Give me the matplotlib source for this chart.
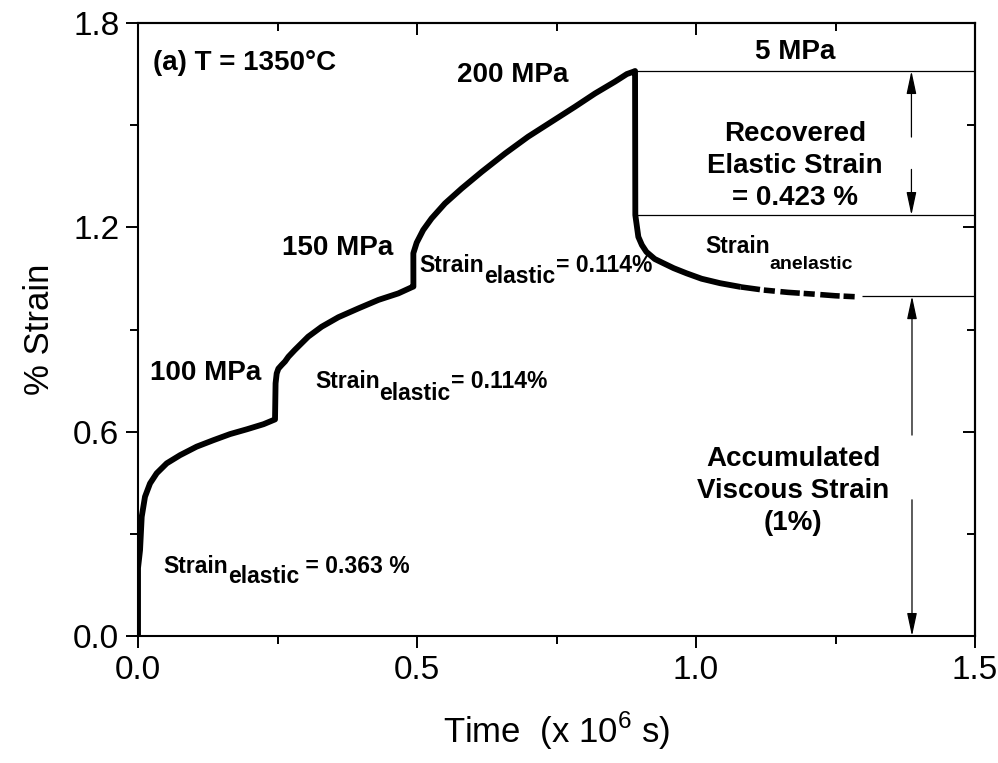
import matplotlib
matplotlib.use('Agg')
import matplotlib.pyplot as plt
from matplotlib.ticker import MultipleLocator

plt.rcParams['font.family'] = ['Liberation Sans', 'DejaVu Sans']
plt.rcParams['mathtext.fontset'] = 'custom'
plt.rcParams['mathtext.rm'] = 'Liberation Sans'

# creep + recovery curve (time in 10^6 s, strain in %)
time = [0.0, 0.0, 0.0036, 0.0066, 0.0125, 0.0215, 0.0335, 0.0514, 0.0753, 0.105, 0.135,
        0.165, 0.195, 0.225, 0.2455,
        0.2465, 0.2485, 0.2515, 0.2575, 0.2634, 0.2695, 0.281, 0.305, 0.329, 0.359, 0.395,
        0.431, 0.4665, 0.4905, 0.4935,
        0.4934, 0.4994, 0.511, 0.526, 0.550, 0.580, 0.616, 0.658, 0.699, 0.741, 0.783,
        0.819, 0.855, 0.876, 0.888, 0.8907,
        0.8912, 0.8966, 0.903, 0.911, 0.926, 0.941, 0.960, 0.983, 1.010, 1.043, 1.080]
strain = [0.0, 0.20, 0.252, 0.350, 0.409, 0.448, 0.478, 0.507, 0.531, 0.556, 0.575,
          0.593, 0.607, 0.622, 0.636,
          0.742, 0.771, 0.785, 0.796, 0.806, 0.820, 0.840, 0.879, 0.908, 0.936, 0.962,
          0.987, 1.006, 1.024, 1.026,
          1.124, 1.155, 1.192, 1.226, 1.270, 1.314, 1.363, 1.417, 1.466, 1.510, 1.554,
          1.593, 1.628, 1.650, 1.657, 1.659,
          1.236, 1.172, 1.148, 1.128, 1.107, 1.095, 1.080, 1.065, 1.049, 1.036, 1.025]
# tail of the recovery, logged more sparsely
tail_time = [1.080, 1.120, 1.165, 1.210, 1.250, 1.288]
tail_strain = [1.025, 1.016, 1.009, 1.004, 0.999, 0.996]

peak_strain = 1.659
recovered_elastic = 0.423
viscous_strain = 0.998

fig, ax = plt.subplots(figsize=(9.98, 7.63), dpi=100)
fig.subplots_adjust(left=0.1383, right=0.977, bottom=0.1664, top=0.9699)

ax.plot(time, strain, color='black', lw=4.2, solid_joinstyle='round', solid_capstyle='butt')
ax.plot(tail_time, tail_strain, color='black', lw=4.0, linestyle=(0, (3.5, 0.7, 2.0, 1.0)))

ax.set_xlim(0, 1.5)
ax.set_ylim(0, 1.8)

# reference levels
ax.hlines(peak_strain, time[45], 1.5, color='black', lw=0.9)
ax.hlines(peak_strain - recovered_elastic, time[46], 1.5, color='black', lw=0.9)
ax.hlines(viscous_strain, 1.298, 1.5, color='black', lw=0.9)

arrow = dict(arrowstyle='-|>,head_length=1.4,head_width=0.3', color='black', lw=0.9,
             shrinkA=0, shrinkB=0, mutation_scale=10)
ax.annotate('', xy=(1.386, peak_strain), xytext=(1.386, 1.465), arrowprops=arrow)
ax.annotate('', xy=(1.386, peak_strain - recovered_elastic), xytext=(1.386, 1.37), arrowprops=arrow)
ax.annotate('', xy=(1.387, viscous_strain), xytext=(1.387, 0.59), arrowprops=arrow)
ax.annotate('', xy=(1.387, 0.0), xytext=(1.387, 0.40), arrowprops=arrow)

# ticks: outward on left/bottom, inward on top/right
ax.xaxis.set_major_locator(MultipleLocator(0.5))
ax.xaxis.set_minor_locator(MultipleLocator(0.25))
ax.yaxis.set_major_locator(MultipleLocator(0.6))
ax.yaxis.set_minor_locator(MultipleLocator(0.3))
ax.tick_params(which='major', direction='out', length=8.5, width=1.4, labelsize=24, pad=5)
ax.tick_params(which='minor', direction='out', length=5.5, width=1.4)
ax.xaxis.set_major_formatter(plt.FormatStrFormatter('%.1f'))
ax.yaxis.set_major_formatter(plt.FormatStrFormatter('%.1f'))

top = ax.secondary_xaxis('top')
top.xaxis.set_major_locator(MultipleLocator(0.5))
top.xaxis.set_minor_locator(MultipleLocator(0.25))
top.tick_params(which='major', direction='in', length=8.5, width=1.4, labeltop=False)
top.tick_params(which='minor', direction='in', length=5.5, width=1.4)
right = ax.secondary_yaxis('right')
right.yaxis.set_major_locator(MultipleLocator(0.6))
right.yaxis.set_minor_locator(MultipleLocator(0.3))
right.tick_params(which='major', direction='in', length=8.5, width=1.4, labelright=False)
right.tick_params(which='minor', direction='in', length=5.5, width=1.4)
for a in (ax, top, right):
    for s in a.spines.values():
        s.set_linewidth(1.5)

ax.set_xlabel('Time  (x 10$^{6}$ s)', fontsize=25, labelpad=17)
ax.set_ylabel('% Strain', fontsize=25, labelpad=12)

bold = dict(fontweight='bold', color='black')
ax.text(0.027, 1.662, '(a) T = 1350°C', fontsize=20, va='baseline', **bold)
ax.text(0.0215, 0.752, '100 MPa', fontsize=20, va='baseline', **bold)
ax.text(0.258, 1.119, '150 MPa', fontsize=20, va='baseline', **bold)
ax.text(0.572, 1.627, '200 MPa', fontsize=20, va='baseline', **bold)
ax.text(1.106, 1.694, '5 MPa', fontsize=20, va='baseline', **bold)
ax.text(1.177, 1.265, 'Recovered\nElastic Strain\n= 0.423 %', fontsize=20, ha='center',
        va='baseline', multialignment='center', linespacing=1.3, **bold)
ax.text(1.174, 0.311, 'Accumulated\nViscous Strain\n(1%)', fontsize=20, ha='center',
        va='baseline', multialignment='center', linespacing=1.3, **bold)


def sub_label(x, y, sub, rest, drop, size=16.5, sub_size=16.5):
    main = ax.text(x, y, 'Strain', fontsize=size, va='baseline', **bold)
    s = ax.annotate(sub, xy=(1, 0), xycoords=main, xytext=(0, -drop),
                    textcoords='offset points', fontsize=sub_size, va='bottom', **bold)
    if rest:
        ax.annotate(rest, xy=(1, 0), xycoords=(s, main), xytext=(0, 0),
                    textcoords='offset points', fontsize=size, va='bottom', **bold)


sub_label(0.0448, 0.185, 'elastic', ' = 0.363 %', 7.2)
sub_label(0.317, 0.728, 'elastic', '= 0.114%', 8.6)
sub_label(0.505, 1.069, 'elastic', '= 0.114%', 8.0)
sub_label(1.016, 1.124, 'anelastic', '', 10.8, sub_size=14)

fig.savefig('out.png', dpi=100)
